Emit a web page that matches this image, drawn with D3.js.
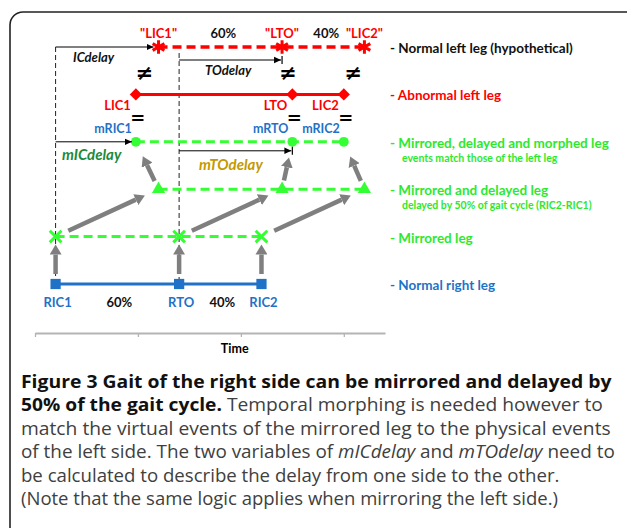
<!DOCTYPE html>
<html>
<head>
<meta charset="utf-8">
<script src="https://cdn.jsdelivr.net/npm/d3@7"></script>
<style>
  body { margin: 0; background: #fff; }
  svg { display: block; }
</style>
</head>
<body>
<svg width="627" height="528"></svg>
<script>
// rows of the diagram, top to bottom
var rows = ["hypo", "abnormal", "morphed", "delayed", "mirrored", "right"];
var legendText = ["- Normal left leg (hypothetical)", "- Abnormal left leg", "- Mirrored, delayed and morphed leg",
                  "- Mirrored and delayed leg", "- Mirrored leg", "- Normal right leg"];
var legendSub = ["", "", "events match those of the left leg", "delayed by 50% of gait cycle (RIC2-RIC1)", "", ""];

// event times in % of the right gait cycle (RIC1 = 0, RIC2 = 100)
var hypoEvents = [50, 110, 150];
var abnormalEvents = [39, 115, 140];
var morphedEvents = [39, 115, 140];
var delayedEvents = [50, 110, 150];
var mirroredEvents = [0, 60, 100];
var rightEvents = [0, 60, 100];

var hypoLabels = ['"LIC1"', '"LTO"', '"LIC2"'];
var abnormalLabels = ["LIC1", "LTO", "LIC2"];
var morphedLabels = ["mRIC1", "mRTO", "mRIC2"];
var rightLabels = ["RIC1", "RTO", "RIC2"];
var phaseLabels = ["60%", "40%"];
var timeTicks = [-10, 40, 90, 140];

var captionLines = [
  [["Figure 3 Gait of the right side can be mirrored and delayed by", "b"]],
  [["50% of the gait cycle.", "b"], [" Temporal morphing is needed however to", "r"]],
  [["match the virtual events of the mirrored leg to the physical events", "r"]],
  [["of the left side. The two variables of ", "r"], ["mICdelay", "i"], [" and ", "r"], ["mTOdelay", "i"], [" need to", "r"]],
  [["be calculated to describe the delay from one side to the other.", "r"]],
  [["(Note that the same logic applies when mirroring the left side.)", "r"]]
];

var RED = "#ff0000", LIME = "#33ff33", LIMETXT = "#2ee82e", BLUE = "#1f72c6", GRAY = "#7f7f7f";

var svg = d3.select("svg");
var font = "Lato, 'Open Sans', sans-serif";

var x = d3.scaleLinear().domain([-10, 160]).range([35, 385]);
var y = d3.scalePoint().domain(rows).range([47, 284]);

// frame
svg.append("rect")
    .attr("x", 10).attr("y", 12).attr("width", 700).attr("height", 600)
    .attr("rx", 13)
    .attr("fill", "none").attr("stroke", "#222").attr("stroke-width", 1.6);

var defs = svg.append("defs");
defs.append("marker").attr("id", "blk")
    .attr("markerUnits", "userSpaceOnUse")
    .attr("markerWidth", 8).attr("markerHeight", 8)
    .attr("refX", 7).attr("refY", 4).attr("orient", "auto")
  .append("path").attr("d", "M0,0.8L7,4L0,7.2Z").attr("fill", "#000");
defs.append("marker").attr("id", "gry")
    .attr("markerUnits", "userSpaceOnUse")
    .attr("markerWidth", 11).attr("markerHeight", 12)
    .attr("refX", 0).attr("refY", 6).attr("orient", "auto")
  .append("path").attr("d", "M0,0L10,6L0,12Z").attr("fill", GRAY);

// time axis
var axis = svg.append("g")
    .attr("transform", "translate(0,333)")
    .call(d3.axisBottom(x).tickValues(timeTicks).tickSize(4).tickSizeOuter(0).tickFormat(""));
axis.selectAll("path, line").attr("stroke", "#b4b4b4");
axis.select(".domain").attr("stroke-width", 2);
axis.selectAll(".tick line").attr("stroke-width", 1.3);
svg.append("text")
    .attr("x", x(87)).attr("y", 353)
    .attr("text-anchor", "middle")
    .style("font", "bold 12.5px " + font)
    .text("Time");

// vertical reference lines at RIC1 and RTO
svg.selectAll(".ref")
  .data([[rightEvents[0], y("hypo")], [rightEvents[1], y("hypo") + 6]])
  .enter().append("line")
    .attr("x1", function(d) { return x(d[0]); })
    .attr("x2", function(d) { return x(d[0]); })
    .attr("y1", function(d) { return d[1]; })
    .attr("y2", y("right") + 2)
    .attr("stroke", "#222").attr("stroke-width", 1)
    .attr("stroke-dasharray", "5,3");

// gray arrows: right -> mirrored -> delayed -> morphed
function grayArrow(x1, y1, x2, y2, s0, s1) {
  var dx = x2 - x1, dy = y2 - y1, L = Math.sqrt(dx * dx + dy * dy);
  var ux = dx / L, uy = dy / L, head = 10;
  svg.append("line")
      .attr("x1", x1 + ux * s0).attr("y1", y1 + uy * s0)
      .attr("x2", x2 - ux * (s1 + head)).attr("y2", y2 - uy * (s1 + head))
      .attr("stroke", GRAY).attr("stroke-width", 4.5)
      .attr("marker-end", "url(#gry)");
}
rightEvents.forEach(function(e, i) {
  grayArrow(x(e), y("right"), x(mirroredEvents[i]), y("mirrored"), 10, 8);
  grayArrow(x(mirroredEvents[i]), y("mirrored"), x(delayedEvents[i]), y("delayed"), 14, 15);
  grayArrow(x(delayedEvents[i]), y("delayed"), x(morphedEvents[i]), y("morphed"), 9, 16);
});

// series
var series = [
  {row: "hypo", ev: hypoEvents, color: RED, width: 3.5, dash: "9,5", sym: d3.symbolAsterisk, size: 130, stroke: true},
  {row: "abnormal", ev: abnormalEvents, color: RED, width: 3, dash: null, sym: d3.symbolDiamond2, size: 95},
  {row: "morphed", ev: morphedEvents, color: LIME, width: 3, dash: "9,5", sym: d3.symbolCircle, size: 75},
  {row: "delayed", ev: delayedEvents, color: LIME, width: 3, dash: "9,5", sym: d3.symbolTriangle, size: 75},
  {row: "mirrored", ev: mirroredEvents, color: LIME, width: 3, dash: "9,5", sym: d3.symbolTimes, size: 90, stroke: true},
  {row: "right", ev: rightEvents, color: BLUE, width: 3, dash: null, sym: d3.symbolSquare, size: 105}
];

var line = d3.line()
    .x(function(d) { return x(d.t); })
    .y(function(d) { return y(d.row); });

series.forEach(function(s) {
  var pts = s.ev.map(function(t) { return {t: t, row: s.row}; });
  svg.append("path")
      .datum(pts)
      .attr("fill", "none")
      .attr("stroke", s.color)
      .attr("stroke-width", s.width)
      .attr("stroke-dasharray", s.dash)
      .attr("d", line);
  svg.selectAll(null)
    .data(pts)
    .enter().append("path")
      .attr("transform", function(d) { return "translate(" + x(d.t) + "," + y(d.row) + ")"; })
      .attr("d", d3.symbol().type(s.sym).size(s.size))
      .attr("fill", s.stroke ? "none" : s.color)
      .attr("stroke", s.stroke ? s.color : "none")
      .attr("stroke-width", s.stroke ? 3 : 0);
});

// dimension arrows
function dimArrow(t0, t1, yy, endGap, bar) {
  svg.append("line")
      .attr("x1", x(t0)).attr("x2", x(t1) - endGap)
      .attr("y1", yy).attr("y2", yy)
      .attr("stroke", "#000").attr("stroke-width", 1)
      .attr("marker-end", "url(#blk)");
  if (bar) {
    svg.append("line")
        .attr("x1", x(t1)).attr("x2", x(t1))
        .attr("y1", yy - 4).attr("y2", yy + 4)
        .attr("stroke", "#000").attr("stroke-width", 1.2);
  }
}
dimArrow(rightEvents[0], hypoEvents[0], y("hypo"), 5, false);
dimArrow(rightEvents[1], hypoEvents[1], y("hypo") + 13, 1, true);
dimArrow(rightEvents[0], morphedEvents[0], y("morphed"), 4, false);
dimArrow(rightEvents[1], morphedEvents[1], y("morphed") + 9, 1, true);

function label(txt, xx, yy, color, size, anchor, style, fam) {
  return svg.append("text")
      .attr("x", xx).attr("y", yy)
      .attr("text-anchor", anchor || "middle")
      .attr("dominant-baseline", "central")
      .attr("fill", color)
      .style("font-family", fam || font)
      .style("font-weight", "bold")
      .style("font-style", style || "normal")
      .style("font-size", size + "px")
      .text(txt);
}

label("ICdelay", 73, y("hypo") + 10, "#111", 13, "start", "italic");
label("TOdelay", 205, y("hypo") + 23, "#111", 13, "start", "italic");
label("mICdelay", 62, y("morphed") + 12, "#1b8a3a", 15, "start", "italic");
label("mTOdelay", 199, y("morphed") + 22, "#c49a00", 15, "start", "italic");

// event labels
var neqShift = [-14, 6, -11];
hypoEvents.forEach(function(e, i) {
  label(hypoLabels[i], x(e), y("hypo") - 14, RED, 13);
  label("\u2260", x(e) + neqShift[i], y("hypo") + 26, "#000", 21, "middle", "normal", "'DejaVu Sans', sans-serif");
});
abnormalEvents.forEach(function(e, i) {
  label(abnormalLabels[i], x(e) - 5, y("abnormal") + 11, RED, 13, "end");
  label("=", x(e) + 2, y("abnormal") + 23, "#000", 18, "middle", "normal", "'DejaVu Sans', sans-serif");
});
morphedEvents.forEach(function(e, i) {
  label(morphedLabels[i], x(e) - 4, y("morphed") - 13, BLUE, 12.5, "end");
});
rightEvents.forEach(function(e, i) {
  label(rightLabels[i], x(e) + 2, y("right") + 18, BLUE, 13);
});
phaseLabels.forEach(function(p, i) {
  label(p, (x(hypoEvents[i]) + x(hypoEvents[i + 1])) / 2 + 3, y("hypo") - 14, "#111", 13);
  label(p, (x(rightEvents[i]) + x(rightEvents[i + 1])) / 2 + 2, y("right") + 18, "#111", 13);
});

// legend
var legendColors = ["#111", RED, LIMETXT, LIMETXT, LIMETXT, BLUE];
rows.forEach(function(r, i) {
  label(legendText[i], 390, y(r) + 1, legendColors[i], 13.5, "start");
  if (legendSub[i]) label(legendSub[i], 402, y(r) + 16, legendColors[i], 10.5, "start");
});

// caption
var capTargets = [612, 603, 611, 615, 560, 558];
captionLines.forEach(function(ln, i) {
  var t = svg.append("text")
      .attr("x", 21).attr("y", 388 + i * 23.4)
      .style("font-family", "'Open Sans', 'Noto Sans', sans-serif")
      .style("font-size", "18.5px");
  ln.forEach(function(seg) {
    t.append("tspan")
        .attr("fill", seg[1] === "b" ? "#111" : "#404040")
        .style("font-weight", seg[1] === "b" ? "bold" : "normal")
        .style("font-style", seg[1] === "i" ? "italic" : "normal")
        .text(seg[0]);
  });
  var w = t.node().getComputedTextLength();
  var k = (capTargets[i] - 21) / w;
  t.attr("transform", "translate(21,0) scale(" + k + ",1) translate(-21,0)");
});
</script>
</body>
</html>
